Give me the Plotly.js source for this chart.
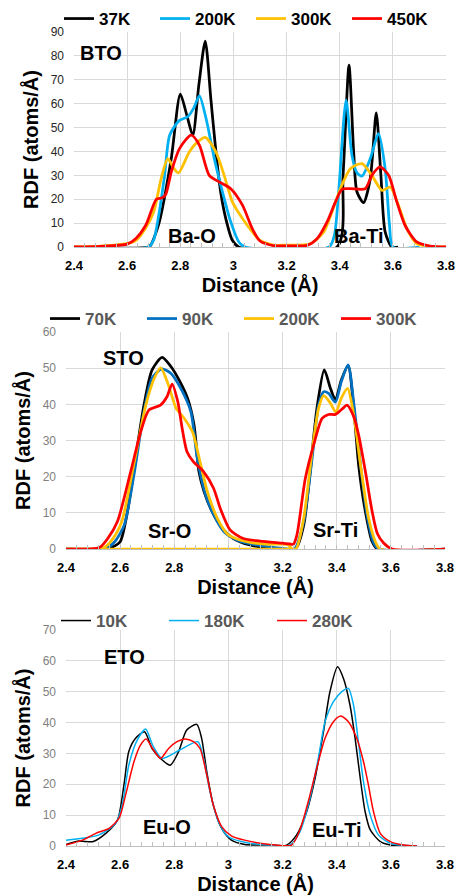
<!DOCTYPE html>
<html>
<head>
<meta charset="utf-8">
<script src="https://cdn.plot.ly/plotly-3.0.1.min.js"></script>
<style>html,body{margin:0;padding:0;background:#fff;}#chart{width:456px;height:895px;}</style>
</head>
<body>
<div id="chart"></div>
<script>
// ---------- BTO ----------
const bto37_x = [2.4, 2.68, 2.69, 2.72, 2.766, 2.80, 2.825, 2.847, 2.87, 2.894, 2.915, 2.934, 2.952, 2.971, 2.996, 3.02, 3.39, 3.4125, 3.435, 3.4525, 3.465, 3.49, 3.515, 3.5375, 3.555, 3.571, 3.596, 3.62];
const bto37_y = [0, 0, 1, 10, 37, 64, 55, 46.8, 68, 86.2, 62, 40, 23, 12, 2.8, 0, 0, 30, 76.1, 39.8, 23, 18.6, 28.6, 56.1, 30, 6.3, 0, 0];
const bto200_x = [2.4, 2.68, 2.70, 2.72, 2.741, 2.76, 2.797, 2.828, 2.85, 2.872, 2.897, 2.928, 2.959, 2.99, 3.021, 3.045, 3.36, 3.38, 3.396, 3.424, 3.446, 3.465, 3.484, 3.515, 3.546, 3.571, 3.5875, 3.6, 3.7];
const bto200_y = [0, 0, 3, 14, 30, 46.8, 53, 54.5, 58, 63.3, 53.8, 37, 23, 10.5, 2, 0, 0, 5, 23, 61.5, 38.4, 31, 29.7, 37, 47.5, 32.8, 9, 0, 0];
const bto300_x = [2.4, 2.5, 2.598, 2.633, 2.67, 2.70, 2.728, 2.753, 2.775, 2.793, 2.834, 2.865, 2.894, 2.934, 2.965, 2.996, 3.034, 3.071, 3.1, 3.15, 3.2, 3.29, 3.34, 3.371, 3.4025, 3.44, 3.484, 3.521, 3.559, 3.59, 3.621, 3.6525, 3.69, 3.74, 3.8];
const bto300_y = [0, 0.4, 1.4, 2.8, 8, 14.7, 28.6, 37, 33, 31, 39.8, 44, 45.9, 39.8, 30, 18.9, 11.9, 6.3, 2.8, 0.8, 0.8, 1.4, 6.3, 14.7, 24.4, 32.8, 34.9, 30, 23.7, 25.1, 17.5, 7.7, 1.4, 0.3, 0];
const bto450_x = [2.4, 2.5, 2.6, 2.633, 2.67, 2.71, 2.73, 2.745, 2.766, 2.797, 2.841, 2.872, 2.909, 2.947, 2.99, 3.034, 3.071, 3.1, 3.15, 3.2, 3.2775, 3.315, 3.3525, 3.384, 3.409, 3.44, 3.496, 3.521, 3.5525, 3.584, 3.615, 3.646, 3.69, 3.74, 3.8];
const bto450_y = [0, 0.3, 1.2, 3.6, 9.1, 20, 20.5, 22, 31.4, 41.2, 46.8, 42.6, 30, 27.2, 24.4, 17.5, 7.7, 2.5, 0.6, 0.5, 0.7, 3.5, 10.5, 18.9, 24.2, 24.4, 24.4, 30, 33.5, 30, 18.9, 9, 2.1, 0.4, 0];

// ---------- STO ----------
const sto70_x = [2.4, 2.535, 2.57, 2.6, 2.627, 2.657, 2.688, 2.718, 2.755, 2.788, 2.818, 2.849, 2.873, 2.891, 2.91, 2.94, 2.977, 3.018, 3.08, 3.15, 3.247, 3.278, 3.302, 3.327, 3.354, 3.377, 3.395, 3.417, 3.442, 3.463, 3.481, 3.506, 3.531, 3.55, 3.8];
const sto70_y = [0, 0, 0.5, 2, 10.3, 25, 39.8, 49.5, 53, 50.4, 46.7, 41.7, 34.3, 21.4, 15.9, 10.3, 5.7, 2.9, 1.1, 0.3, 0, 6.6, 21.4, 38.9, 49.5, 44.4, 41.2, 46.7, 50.7, 38.9, 23.2, 10.3, 2, 0, 0];
const sto90_x = [2.4, 2.553, 2.58, 2.615, 2.651, 2.688, 2.718, 2.753, 2.787, 2.824, 2.861, 2.885, 2.916, 2.946, 2.983, 3.03, 3.104, 3.2, 3.244, 3.278, 3.309, 3.333, 3.352, 3.37, 3.395, 3.417, 3.442, 3.463, 3.488, 3.512, 3.537, 3.555, 3.8];
const sto90_y = [0, 0.4, 2, 6.6, 20.5, 38, 47.2, 49.8, 48.6, 44.4, 38, 25, 14.9, 9.4, 4.8, 2.5, 1.1, 0.2, 0, 7.6, 25, 39.8, 43.5, 43, 40.6, 46.3, 50.9, 40.3, 23.2, 9.4, 1.6, 0, 0];
const sto200_x = [2.4, 2.54, 2.57, 2.606, 2.65, 2.695, 2.726, 2.75, 2.776, 2.807, 2.837, 2.867, 2.898, 2.922, 2.959, 3.0, 3.08, 3.15, 3.22, 3.235, 3.25, 3.278, 3.309, 3.333, 3.352, 3.377, 3.397, 3.417, 3.44, 3.463, 3.488, 3.518, 3.543, 3.56, 3.8];
const sto200_y = [0, 0.4, 2.5, 7.6, 23.2, 39.8, 47.2, 50.1, 45.8, 38.9, 36.1, 32.4, 23.2, 15.9, 8.5, 3.9, 1.8, 1.3, 1.2, 0, 0, 8.5, 26.9, 38.9, 42.4, 40.3, 37.8, 41.7, 44.4, 37, 23.2, 8.5, 2, 0, 0];
const sto200base_x = [2.4, 3.25];
const sto200base_y = [0, 0];
const sto300_x = [2.4, 2.523, 2.555, 2.59, 2.639, 2.676, 2.706, 2.749, 2.773, 2.792, 2.813, 2.829, 2.847, 2.871, 2.908, 2.945, 2.97, 3.006, 3.055, 3.116, 3.2, 3.225, 3.24, 3.253, 3.284, 3.315, 3.346, 3.37, 3.395, 3.42, 3.438, 3.463, 3.481, 3.506, 3.531, 3.55, 3.574, 3.605, 3.8];
const sto300_y = [0, 0.4, 3, 7.6, 21.4, 32.4, 38.4, 39.8, 42.1, 45.6, 40.7, 33.4, 26.9, 24.1, 21.4, 16.8, 11.2, 5.3, 2.9, 2.2, 1.6, 1.4, 1.3, 3.9, 19.5, 28.8, 36.1, 37.2, 37.2, 38.7, 39.8, 36.6, 31.5, 21.4, 10.3, 4.3, 1.6, 0, 0];

// ---------- ETO ----------
const eto10_x = [2.4, 2.449, 2.498, 2.547, 2.59, 2.614, 2.632, 2.657, 2.69, 2.718, 2.749, 2.785, 2.816, 2.846, 2.883, 2.901, 2.92, 2.944, 2.975, 3.011, 3.06, 3.153, 3.215, 3.252, 3.289, 3.32, 3.351, 3.375, 3.403, 3.425, 3.449, 3.468, 3.487, 3.505, 3.524, 3.561, 3.598, 3.696];
const eto10_y = [0.5, 1.6, 1.4, 4.1, 8.4, 19.8, 30.6, 34.9, 37, 31.6, 28.4, 26.2, 30.6, 37.6, 39.4, 34.9, 24.1, 13.3, 5.7, 1.9, 0.5, 0.3, 0.3, 3.6, 11.1, 21.9, 37, 50, 58.1, 54.3, 45.7, 34.9, 21.9, 11.1, 5.2, 1.4, 0.3, 0];
const eto180_x = [2.4, 2.461, 2.522, 2.583, 2.608, 2.632, 2.663, 2.694, 2.72, 2.755, 2.82, 2.887, 2.908, 2.932, 2.963, 3.0, 3.06, 3.153, 3.227, 3.264, 3.301, 3.332, 3.357, 3.388, 3.419, 3.443, 3.462, 3.48, 3.499, 3.524, 3.554, 3.598, 3.696];
const eto180_y = [1.9, 2.5, 3.6, 7.3, 13.3, 26.2, 34.3, 37.9, 32.7, 28.4, 31.1, 33.8, 28.4, 17.6, 7.9, 3, 1.2, 0.3, 0.3, 4.6, 15.4, 28.4, 40.3, 46.8, 50, 51.1, 45.7, 33.8, 20.8, 10, 3.6, 0.9, 0];
const eto280_x = [2.4, 2.461, 2.51, 2.559, 2.596, 2.62, 2.651, 2.675, 2.696, 2.72, 2.749, 2.779, 2.81, 2.84, 2.871, 2.895, 2.92, 2.944, 2.975, 3.011, 3.06, 3.153, 3.233, 3.264, 3.295, 3.326, 3.357, 3.388, 3.415, 3.443, 3.474, 3.499, 3.517, 3.536, 3.561, 3.598, 3.647, 3.696];
const eto280_y = [0.3, 1.9, 4.1, 5.7, 9, 16.5, 27.3, 32.7, 34.7, 31.6, 28.4, 31.6, 33.8, 34.7, 33.8, 31.6, 23, 13.3, 6.3, 3.3, 1.9, 0.5, 0.3, 5.2, 14.4, 25.2, 34.9, 40.3, 42.1, 40.3, 34.9, 27.3, 19.8, 11.1, 4.1, 1.4, 0.3, 0];

const FONT = 'Liberation Sans, Arial, sans-serif';
const C_BLACK = '#000000', C_LBLUE = '#00b0f0', C_DBLUE = '#0070c0', C_YEL = '#ffc000', C_RED = '#ff0000';

function tr(x, y, name, color, w, ax, leg, show) {
  return {x: x, y: y, name: name, type: 'scatter', mode: 'lines',
    line: {color: color, width: w, shape: 'spline', smoothing: 0.7},
    xaxis: 'x' + ax, yaxis: 'y' + ax, legend: leg, showlegend: show !== false, hoverinfo: 'skip'};
}

const traces = [
  tr(bto37_x, bto37_y, '37K', C_BLACK, 2.75, '', 'legend'),
  tr(bto200_x, bto200_y, '200K', C_LBLUE, 2.75, '', 'legend'),
  tr(bto300_x, bto300_y, '300K', C_YEL, 2.75, '', 'legend'),
  tr(bto450_x, bto450_y, '450K', C_RED, 2.75, '', 'legend'),
  tr(sto70_x, sto70_y, '70K', C_BLACK, 2.75, '2', 'legend2'),
  tr(sto90_x, sto90_y, '90K', C_DBLUE, 2.75, '2', 'legend2'),
  tr(sto200base_x, sto200base_y, '200K', C_YEL, 2.75, '2', 'legend2', false),
  tr(sto200_x, sto200_y, '200K', C_YEL, 2.75, '2', 'legend2'),
  tr(sto300_x, sto300_y, '300K', C_RED, 2.75, '2', 'legend2'),
  tr(eto10_x, eto10_y, '10K', C_BLACK, 1.5, '3', 'legend3'),
  tr(eto180_x, eto180_y, '180K', C_LBLUE, 1.5, '3', 'legend3'),
  tr(eto280_x, eto280_y, '280K', C_RED, 1.5, '3', 'legend3')
];

function xax(domain, anchor) {
  return {domain: domain, anchor: anchor, range: [2.4, 3.8], tick0: 2.4, dtick: 0.2,
    showgrid: true, gridcolor: '#d9d9d9', gridwidth: 1, zeroline: false,
    showline: true, linecolor: '#bfbfbf', linewidth: 1,
    ticks: 'inside', ticklen: 4, tickcolor: '#bfbfbf',
    minor: {ticks: 'inside', ticklen: 4, tickcolor: '#bfbfbf', dtick: 0.04, tick0: 2.4, showgrid: false},
    tickfont: {family: FONT, size: 13, color: '#000', weight: 'bold'},
    ticklabelstandoff: 6, automargin: false,
    title: {text: 'Distance (Å)', font: {family: FONT, size: 20, color: '#000', weight: 'bold'}, standoff: 3}};
}
function yax(domain, anchor, maxv, tcol) {
  return {domain: domain, anchor: anchor, range: [0, maxv], dtick: 10, tick0: 0,
    showgrid: true, gridcolor: '#d9d9d9', gridwidth: 1, zeroline: false, showline: false,
    ticks: '', tickfont: {family: FONT, size: 12, color: tcol},
    ticklabelstandoff: 9, automargin: false,
    title: {text: 'RDF (atoms/Å)', font: {family: FONT, size: 20, color: '#000', weight: 'bold'}, standoff: 6}};
}
function leg(xp, yp, fcol, ew) {
  return {orientation: 'h', x: xp / 456, xanchor: 'left', y: 1 - yp / 895, yanchor: 'middle',
    bgcolor: 'rgba(0,0,0,0)', borderwidth: 0, itemwidth: 30, entrywidth: ew, entrywidthmode: 'pixels',
    font: {family: FONT, size: 17, color: fcol, weight: 'bold'}, itemclick: false, itemdoubleclick: false};
}
function ann(text, x, y, ax) {
  return {text: text, x: x, y: y, xref: 'x' + ax, yref: 'y' + ax, showarrow: false,
    font: {family: FONT, size: 20, color: '#000', weight: 'bold'}, xanchor: 'center', yanchor: 'middle'};
}

const layout = {
  width: 456, height: 895, margin: {l: 0, r: 0, t: 0, b: 0},
  paper_bgcolor: '#ffffff', plot_bgcolor: '#ffffff', showlegend: true,
  font: {family: FONT},
  xaxis: xax([74 / 456, 446 / 456], 'y'),
  yaxis: yax([1 - 247 / 895, 1 - 32 / 895], 'x', 90, '#262626'),
  xaxis2: xax([66 / 456, 445 / 456], 'y2'),
  yaxis2: yax([1 - 549 / 895, 1 - 332 / 895], 'x2', 60, '#7f7f7f'),
  xaxis3: xax([66 / 456, 445 / 456], 'y3'),
  yaxis3: yax([1 - 846 / 895, 1 - 630 / 895], 'x3', 70, '#7f7f7f'),
  legend: leg(59, 19, '#000', 51),
  legend2: leg(45, 319, '#595959', 52),
  legend3: leg(56, 621, '#595959', 63),
  annotations: [
    ann('BTO', 2.501, 81.2, ''), ann('Ba-O', 2.844, 4.5, ''), ann('Ba-Ti', 3.473, 4.5, ''),
    ann('STO', 2.614, 52.8, '2'), ann('Sr-O', 2.783, 5.0, '2'), ann('Sr-Ti', 3.394, 5.3, '2'),
    ann('ETO', 2.616, 61.2, '3'), ann('Eu-O', 2.773, 6.2, '3'), ann('Eu-Ti', 3.401, 5.2, '3')
  ]
};

Plotly.newPlot('chart', traces, layout, {staticPlot: true, displayModeBar: false});
</script>
</body>
</html>
